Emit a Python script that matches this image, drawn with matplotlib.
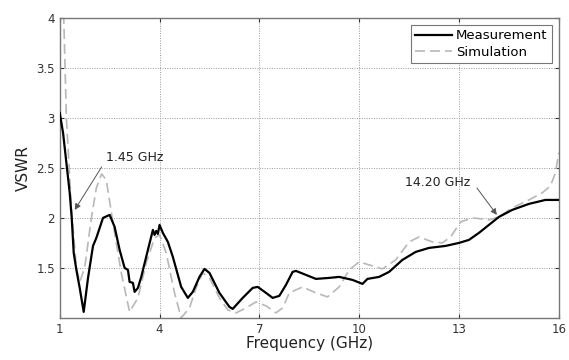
import numpy as np
import matplotlib.pyplot as plt

meas_f = [1.0, 1.1, 1.2, 1.3, 1.36, 1.42, 1.5, 1.6, 1.72, 1.85, 2.0, 2.1, 2.3, 2.5,
          2.65, 2.8, 2.95, 3.05, 3.1, 3.2, 3.25, 3.35, 3.45, 3.65, 3.8, 3.85, 3.9,
          3.95, 4.0, 4.1, 4.25, 4.4, 4.65, 4.85, 5.0, 5.2, 5.35, 5.5, 5.8, 6.1,
          6.2, 6.5, 6.8, 6.95, 7.2, 7.4, 7.6, 7.8, 8.0, 8.1, 8.4, 8.7, 9.1, 9.4,
          9.8, 10.1, 10.25, 10.6, 10.9, 11.3, 11.7, 12.1, 12.6, 13.0, 13.3, 13.6,
          13.9, 14.2, 14.6, 15.1, 15.6, 16.0]
meas_v = [3.05, 2.85, 2.55, 2.25, 2.0, 1.65, 1.48, 1.3, 1.06, 1.4, 1.72, 1.8, 2.0, 2.03,
          1.91, 1.68, 1.5, 1.48, 1.36, 1.35, 1.26, 1.30, 1.41, 1.68, 1.88, 1.83, 1.87,
          1.84, 1.93, 1.85, 1.76, 1.61, 1.31, 1.20, 1.26, 1.41, 1.49, 1.45, 1.25, 1.11,
          1.09, 1.20, 1.30, 1.31, 1.25, 1.20, 1.22, 1.33, 1.46, 1.47, 1.43, 1.39, 1.40, 1.41,
          1.38, 1.34, 1.39, 1.41, 1.46, 1.58, 1.66, 1.70, 1.72, 1.75, 1.78, 1.85,
          1.93, 2.01, 2.08, 2.14, 2.18, 2.18]

# simulated VSWR
sim_f = [1.0, 1.12, 1.2, 1.35, 1.5, 1.6, 1.75, 1.95, 2.1, 2.26, 2.4, 2.6, 2.85, 3.1,
         3.35, 3.6, 3.85, 4.0, 4.2, 4.45, 4.65, 4.9, 5.1, 5.3, 5.5, 5.8, 6.05, 6.3,
         6.6, 6.9, 7.2, 7.5, 7.7, 7.9, 8.3, 8.7, 9.05, 9.4, 9.7, 10.0, 10.3, 10.7,
         11.1, 11.5, 11.8, 12.2, 12.5, 12.75, 13.05, 13.4, 13.7, 13.9, 14.2, 14.6,
         15.1, 15.5, 15.75, 15.9, 16.0]
sim_v = [4.4, 4.0, 3.0, 2.1, 1.5, 1.36, 1.5, 2.0, 2.3, 2.44, 2.38, 1.95, 1.45, 1.06,
         1.2, 1.55, 1.8, 1.83, 1.65, 1.25, 1.0, 1.1, 1.3, 1.45, 1.4, 1.2, 1.08, 1.05,
         1.1, 1.16, 1.12, 1.05, 1.1, 1.25, 1.31, 1.25, 1.21, 1.31, 1.48, 1.56, 1.53, 1.49,
         1.58, 1.76, 1.81, 1.76, 1.75, 1.81, 1.96, 2.0, 1.99, 1.98, 2.01, 2.10,
         2.18, 2.25, 2.32, 2.45, 2.65]

x_ticks = [1, 4, 7, 10, 13, 16]
y_ticks = [1.5, 2, 2.5, 3, 3.5, 4]

fig = plt.figure(figsize=(5.69, 3.6), dpi=100)
ax = fig.add_axes([0.105, 0.117, 0.877, 0.833])

ax.plot(sim_f, sim_v, color='#b8b8b8', linestyle=(0, (6, 3)), linewidth=1.2,
        label='Simulation', zorder=2)
ax.plot(meas_f, meas_v, color='black', linewidth=1.6, label='Measurement', zorder=3)

ax.set_xlim(1, 16)
ax.set_ylim(1, 4)
ax.set_xticks(x_ticks)
ax.set_xticklabels([str(t) for t in x_ticks])
ax.set_yticks(y_ticks)
ax.set_yticklabels(['1.5', '2', '2.5', '3', '3.5', '4'])
ax.tick_params(direction='in', top=True, right=True, labelsize=8.5,
               colors='#333333', length=3)
for s in ax.spines.values():
    s.set_color('#777777')
    s.set_linewidth(1.0)
ax.grid(True, color='#999999', linestyle=(0, (1, 1.5)), linewidth=0.7)

ax.set_xlabel('Frequency (GHz)', fontsize=11, color='#222222', labelpad=0)
ax.set_ylabel('VSWR', fontsize=11, color='#222222', labelpad=4)

# annotations: text plus a thin arrow
ax.text(3.25, 2.6, '1.45 GHz', fontsize=9, color='#222222', ha='center', va='center')
ax.annotate('', xy=(1.45, 2.08), xytext=(2.26, 2.51),
            arrowprops=dict(arrowstyle='-|>', color='#555555', lw=0.7,
                            shrinkA=0, shrinkB=0, mutation_scale=9))
ax.text(12.35, 2.35, '14.20 GHz', fontsize=9, color='#222222', ha='center', va='center')
ax.annotate('', xy=(14.14, 2.03), xytext=(13.54, 2.30),
            arrowprops=dict(arrowstyle='-|>', color='#555555', lw=0.7,
                            shrinkA=0, shrinkB=0, mutation_scale=9))

h, l = ax.get_legend_handles_labels()
leg = ax.legend(h[::-1], l[::-1], loc='upper right', fontsize=9.5, fancybox=False,
                framealpha=1, edgecolor='#777777', borderpad=0.35,
                handlelength=2.8, handletextpad=0.3, labelspacing=0.25,
                borderaxespad=0.5)
leg.get_frame().set_linewidth(0.8)

fig.savefig('out.png', dpi=100, facecolor='white')
